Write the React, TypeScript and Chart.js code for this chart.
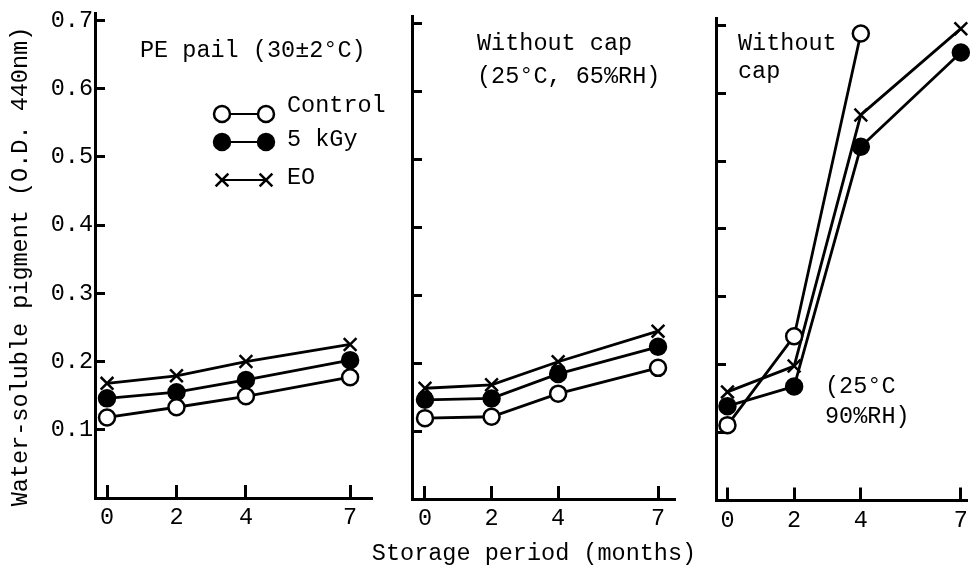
import React, { useEffect, useRef } from 'react';
import { Chart, registerables } from 'chart.js';

Chart.register(...registerables);

const W = 979;
const H = 570;
const FONT = "'Liberation Mono', 'Courier New', monospace";
const FONT_SIZE = 23.5;

// ---------- data ----------
const months = [0, 2, 4, 7];
const xTickValues = [0, 2, 4, 7];
const yTickValues = [0.1, 0.2, 0.3, 0.4, 0.5, 0.6, 0.7];
const seriesLabels = ['Control', '5 kGy', 'EO'];

// Panel 1: PE pail (30±2°C)
const pailControl = [0.118, 0.133, 0.149, 0.177];
const pailGy = [0.146, 0.155, 0.173, 0.202];
const pailEO = [0.168, 0.179, 0.2, 0.225];

// Panel 2: Without cap (25°C, 65%RH)
const rh65Control = [0.119, 0.121, 0.155, 0.193];
const rh65Gy = [0.146, 0.148, 0.184, 0.224];
const rh65EO = [0.163, 0.168, 0.202, 0.247];

// Panel 3: Without cap (25°C 90%RH)
const rh90Control = [0.111, 0.242, 0.688, null];
const rh90Gy = [0.139, 0.168, 0.521, 0.66];
const rh90EO = [0.16, 0.198, 0.568, 0.695];

const panelTitles = [['PE pail (30±2°C)'], ['Without cap', '(25°C, 65%RH)'], ['Without', 'cap']];
const panel3Note = ['(25°C', '90%RH)'];
const yAxisTitle = 'Water-soluble pigment (O.D. 440nm)';
const xAxisTitle = 'Storage period (months)';

// ---------- layout / style ----------
const panels = [
  { left: 95, right: 372, top: 13.5, bottom: 498, xMin: -0.346, xMax: 7.63, yMax: 0.71, showYLabels: true,
    series: [pailControl, pailGy, pailEO], titleX: 140, titleY: [57], },
  { left: 412, right: 675, top: 16.5, bottom: 499, xMin: -0.39, xMax: 7.51, yMax: 0.71, showYLabels: false,
    series: [rh65Control, rh65Gy, rh65EO], titleX: 477, titleY: [50, 83], },
  { left: 716, right: 979, top: 18.5, bottom: 500.5, xMin: -0.344, xMax: 7.2, yMax: 0.71, showYLabels: false,
    series: [rh90Control, rh90Gy, rh90EO], titleX: 738, titleY: [50, 78], },
];

const seriesStyles = [
  { pointStyle: 'circle', radius: 8, bg: '#ffffff' },
  { pointStyle: 'circle', radius: 8, bg: '#000000' },
  { pointStyle: 'crossRot', radius: 9, bg: '#000000' },
];

function drawText(ctx: CanvasRenderingContext2D, s: string, x: number, y: number, align: CanvasTextAlign = 'left') {
  ctx.save();
  ctx.font = `${FONT_SIZE}px ${FONT}`;
  ctx.fillStyle = '#000';
  ctx.textAlign = align;
  ctx.textBaseline = 'alphabetic';
  ctx.fillText(s, x, y);
  ctx.restore();
}

function drawMarker(ctx: CanvasRenderingContext2D, idx: number, x: number, y: number) {
  const st = seriesStyles[idx];
  ctx.save();
  ctx.strokeStyle = '#000';
  ctx.lineWidth = 2.5;
  if (st.pointStyle === 'circle') {
    ctx.beginPath();
    ctx.arc(x, y, st.radius, 0, Math.PI * 2);
    ctx.fillStyle = st.bg;
    ctx.fill();
    ctx.stroke();
  } else {
    const r = st.radius * Math.SQRT1_2;
    ctx.beginPath();
    ctx.moveTo(x - r, y - r);
    ctx.lineTo(x + r, y + r);
    ctx.moveTo(x + r, y - r);
    ctx.lineTo(x - r, y + r);
    ctx.stroke();
  }
  ctx.restore();
}

function makeConfig(pi: number): any {
  const p = panels[pi];
  const datasets = p.series.map((vals, si) => ({
    label: seriesLabels[si],
    data: months.map((m, i) => ({ x: m, y: vals[i] })),
    borderColor: '#000',
    borderWidth: 2.8,
    pointStyle: seriesStyles[si].pointStyle,
    pointRadius: seriesStyles[si].radius,
    pointBorderWidth: 2.5,
    pointBorderColor: '#000',
    pointBackgroundColor: seriesStyles[si].bg,
    fill: false,
    tension: 0,
    spanGaps: false,
    clip: false,
  }));

  const textPlugin = {
    id: 'panelText' + pi,
    afterDraw(chart: any) {
      const ctx: CanvasRenderingContext2D = chart.ctx;
      panelTitles[pi].forEach((line, i) => drawText(ctx, line, p.titleX, p.titleY[i]));
      if (pi === 0) {
        // y axis title
        ctx.save();
        ctx.translate(27, 266.5);
        ctx.rotate(-Math.PI / 2);
        ctx.font = `${FONT_SIZE}px ${FONT}`;
        ctx.fillStyle = '#000';
        ctx.textAlign = 'center';
        ctx.textBaseline = 'alphabetic';
        ctx.fillText(yAxisTitle, 0, 0);
        ctx.restore();
        // legend
        const rowY = [114, 142, 180];
        const textY = [112, 146, 184];
        seriesLabels.forEach((lab, si) => {
          ctx.save();
          ctx.strokeStyle = '#000';
          ctx.lineWidth = 2;
          ctx.beginPath();
          ctx.moveTo(222, rowY[si]);
          ctx.lineTo(266, rowY[si]);
          ctx.stroke();
          ctx.restore();
          drawMarker(ctx, si, 222, rowY[si]);
          drawMarker(ctx, si, 266, rowY[si]);
          drawText(ctx, lab, 287, textY[si]);
        });
      }
      if (pi === 1) {
        drawText(ctx, xAxisTitle, 534, 560, 'center');
      }
      if (pi === 2) {
        drawText(ctx, panel3Note[0], 825, 393);
        drawText(ctx, panel3Note[1], 825, 423);
      }
    },
  };

  return {
    type: 'line',
    data: { datasets },
    plugins: [textPlugin],
    options: {
      responsive: false,
      maintainAspectRatio: false,
      animation: false,
      devicePixelRatio: 1,
      events: [],
      layout: { padding: { left: 0, top: p.top, right: W - p.right, bottom: 0 } },
      plugins: { legend: { display: false }, tooltip: { enabled: false }, title: { display: false } },
      scales: {
        x: {
          type: 'linear',
          position: 'bottom',
          min: p.xMin,
          max: p.xMax,
          afterBuildTicks: (s: any) => { s.ticks = xTickValues.map((v) => ({ value: v })); },
          afterFit: (s: any) => { s.height = H - p.bottom; s.paddingLeft = 0; s.paddingRight = 0; },
          grid: { drawOnChartArea: false, drawTicks: true, tickLength: -13, tickWidth: 3, tickColor: '#000' },
          border: { display: true, width: 3, color: '#000' },
          ticks: {
            padding: 19,
            color: '#000',
            font: { family: FONT, size: FONT_SIZE },
            maxRotation: 0,
            autoSkip: false,
            callback: (v: any) => String(v),
          },
        },
        y: {
          type: 'linear',
          position: 'left',
          min: 0,
          max: p.yMax,
          afterBuildTicks: (s: any) => { s.ticks = yTickValues.map((v) => ({ value: v })); },
          afterFit: (s: any) => { s.width = p.left; s.paddingTop = 0; s.paddingBottom = 0; },
          grid: { drawOnChartArea: false, drawTicks: true, tickLength: -10, tickWidth: 3, tickColor: '#000' },
          border: { display: true, width: 3, color: '#000' },
          ticks: {
            display: p.showYLabels,
            padding: 12,
            color: '#000',
            font: { family: FONT, size: FONT_SIZE },
            autoSkip: false,
            callback: (v: any) => Number(v).toFixed(1),
          },
        },
      },
    },
  };
}

function Panel({ index }: { index: number }) {
  const ref = useRef<HTMLCanvasElement | null>(null);
  useEffect(() => {
    if (!ref.current) return;
    const chart = new Chart(ref.current, makeConfig(index));
    return () => chart.destroy();
  }, [index]);
  return (
    <canvas
      ref={ref}
      width={W}
      height={H}
      style={{ position: 'absolute', left: 0, top: 0, width: W, height: H }}
    />
  );
}

export default function App() {
  return (
    <div style={{ position: 'fixed', left: 0, top: 0, width: W, height: H, background: '#fff', overflow: 'hidden' }}>
      <Panel index={0} />
      <Panel index={1} />
      <Panel index={2} />
    </div>
  );
}
